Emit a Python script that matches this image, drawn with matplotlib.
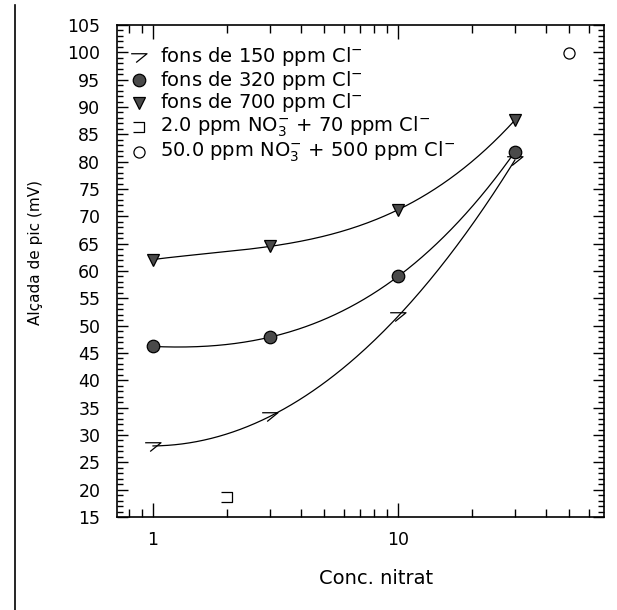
import numpy as np
import matplotlib.pyplot as plt
from matplotlib.path import Path
from matplotlib.lines import Line2D
from matplotlib.ticker import LogLocator, MultipleLocator, FixedFormatter, FixedLocator

# data
conc = [1, 3, 10, 30]
fons_150 = [28.0, 33.4, 51.7, 80.3]
fons_320 = [46.2, 47.9, 59.0, 81.8]
fons_700 = [62.1, 64.5, 71.2, 87.6]
extra_x = [2.0]
extra_y = [18.6]
extra2_x = [50.0]
extra2_y = [99.8]

labels = ["fons de 150 ppm Cl$^{-}$", "fons de 320 ppm Cl$^{-}$", "fons de 700 ppm Cl$^{-}$",
          "2.0 ppm NO$_3^{-}$ + 70 ppm Cl$^{-}$", "50.0 ppm NO$_3^{-}$ + 500 ppm Cl$^{-}$"]

seven = Path([(-1.0, 0.45), (0.9, 0.45), (-0.4, -0.6)], [Path.MOVETO, Path.LINETO, Path.LINETO])
bracket = Path([(-0.8, 0.6), (0.6, 0.6), (0.6, -0.6), (-0.8, -0.6)],
               [Path.MOVETO, Path.LINETO, Path.LINETO, Path.LINETO])

styles = [
    dict(marker=seven, ms=12, mfc='none'),
    dict(marker='o', ms=9, mfc='#4a4a4a'),
    dict(marker='v', ms=9, mfc='#4a4a4a'),
    dict(marker=bracket, ms=9, mfc='none'),
    dict(marker='o', ms=8, mfc='none'),
]

fig = plt.figure(figsize=(6.17, 6.10), dpi=100)
ax = fig.add_axes([117/617, 1 - 517/610, (604-117)/617, (517-25)/610])

# smooth curves through the points (cubic in log x)
lx = np.log10(conc)
xs = np.logspace(0, np.log10(30), 200)
for ys in [fons_150, fons_320, fons_700]:
    c = np.polyfit(lx, ys, 3)
    ax.plot(xs, np.polyval(c, np.log10(xs)), color='black', lw=0.9)

series = [(conc, fons_150), (conc, fons_320), (conc, fons_700), (extra_x, extra_y), (extra2_x, extra2_y)]
for (x, y), st in zip(series, styles):
    ax.plot(x, y, ls='none', mec='black', mew=0.9, **st)

# legend drawn by hand to match spacing
rows = [57, 80, 103, 127, 152]
for r, st, lab in zip(rows, styles, labels):
    yf = (517 - r) / 492
    ax.plot([0.045], [yf], transform=ax.transAxes, ls='none', mec='black', mew=0.9, clip_on=False, **st)
    ax.text(0.088, yf, lab, transform=ax.transAxes, fontsize=14, va='center', ha='left')

ax.set_xscale('log')
ax.set_xlim(0.713, 69.3)
ax.set_ylim(15, 105)
ax.yaxis.set_major_locator(MultipleLocator(5))
ax.yaxis.set_minor_locator(MultipleLocator(1))
ax.xaxis.set_major_locator(FixedLocator([1, 10]))
ax.xaxis.set_major_formatter(FixedFormatter(['1', '10']))
ax.xaxis.set_minor_locator(LogLocator(base=10, subs=np.arange(2, 10), numticks=10))
ax.xaxis.set_minor_formatter(plt.NullFormatter())

ax.tick_params(axis='both', which='both', direction='in', top=True, right=True, labelsize=12.5, width=1)
ax.tick_params(axis='y', which='major', length=8, pad=12)
ax.tick_params(axis='y', which='minor', length=4)
ax.tick_params(axis='x', which='major', length=10, pad=10)
ax.tick_params(axis='x', which='minor', length=6)
for s in ax.spines.values():
    s.set_linewidth(1.2)

ax.set_ylabel("Alçada de pic (mV)", fontsize=11, va='center')
ax.yaxis.set_label_coords(-0.168, 0.537)
ax.set_xlabel("Conc. nitrat", fontsize=14, va='center')
ax.xaxis.set_label_coords(0.532, -0.124)

fig.add_artist(Line2D([15/617, 15/617], [0, 1 - 5/610], color='black', lw=1.2))

fig.savefig('out.png', dpi=100)
